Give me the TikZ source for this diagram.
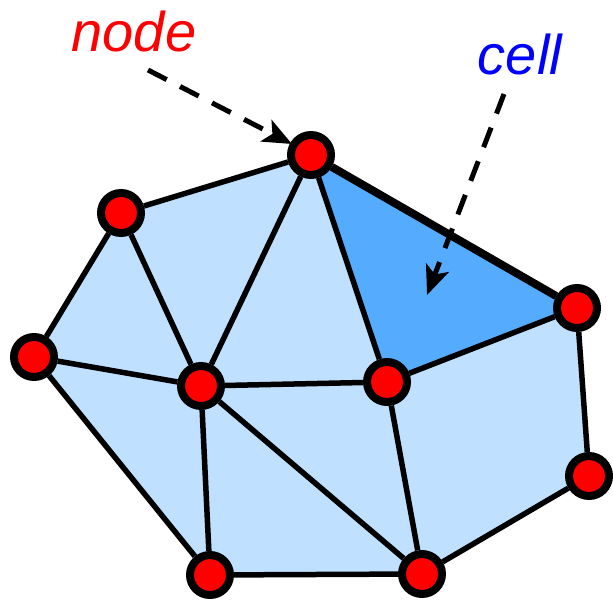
\documentclass[tikz,border=0pt]{standalone}
\usepackage{fontspec}
\newfontfamily\labelfont{Liberation Sans}
\usetikzlibrary{arrows.meta,backgrounds}
\definecolor{meshlight}{RGB}{191,225,255}
\definecolor{meshcell}{RGB}{85,172,255}
\definecolor{nodered}{RGB}{255,0,0}
\definecolor{cellblue}{RGB}{0,0,255}

\begin{document}
\begin{tikzpicture}[x=1pt, y=-1pt,
  vertex/.style={circle, draw=black, fill=nodered, line width=8pt, minimum size=40pt, inner sep=0pt},
  edge/.style={line width=5.5pt},
  pointer/.style={line width=5pt, dash pattern=on 21pt off 15pt, -{Stealth[length=29pt, width=24pt, inset=7pt]}},
  tag/.style={font=\labelfont\itshape\fontsize{56}{60}\selectfont, inner sep=0pt, anchor=base}]
  \useasboundingbox (0,0) rectangle (613,601);
  % --- mesh vertices
  \node[vertex] (n1) at (311,155) {};
  \node[vertex] (n2) at (121,213) {};
  \node[vertex] (n3) at (34,357) {};
  \node[vertex] (n4) at (201,386) {};
  \node[vertex] (n5) at (387,382) {};
  \node[vertex] (n6) at (577,308) {};
  \node[vertex] (n7) at (589,476) {};
  \node[vertex] (n8) at (210,575) {};
  \node[vertex] (n9) at (422,574) {};
  % --- fills behind
  \begin{scope}[on background layer]
    \fill[meshlight] (n1.center) -- (n6.center) -- (n7.center) -- (n9.center) -- (n8.center)
      -- (n3.center) -- (n2.center) -- cycle;
    \fill[meshcell] (n1.center) -- (n6.center) -- (n5.center) -- cycle;
  \end{scope}
  % --- outer edges
  \draw[edge] (n1) -- (n2);
  \draw[edge] (n2) -- (n3);
  \draw[edge] (n3) -- (n8);
  \draw[edge] (n8) -- (n9);
  \draw[edge] (n9) -- (n7);
  \draw[edge] (n7) -- (n6);
  \draw[edge, line width=8pt] (n6) -- (n1);
  % --- inner edges
  \draw[edge] (n2) -- (n4);
  \draw[edge] (n3) -- (n4);
  \draw[edge] (n1) -- (n4);
  \draw[edge] (n1) -- (n5);
  \draw[edge] (n4) -- (n5);
  \draw[edge] (n5) -- (n6);
  \draw[edge] (n4) -- (n8);
  \draw[edge] (n4) -- (n9);
  \draw[edge] (n5) -- (n9);
  % --- labels
  \node[tag, text=nodered] (nodelabel) at (134,52) {node};
  \node[tag, text=cellblue] (celllabel) at (520,75) {cell};
  \coordinate (nodetail) at (148,70);
  \coordinate (nodetip) at (292,144);
  \coordinate (celltail) at (504,94);
  \coordinate (celltip) at (427,295);
  \draw[pointer] (nodetail) -- (nodetip);
  \draw[pointer] (celltail) -- (celltip);
\end{tikzpicture}
\end{document}
